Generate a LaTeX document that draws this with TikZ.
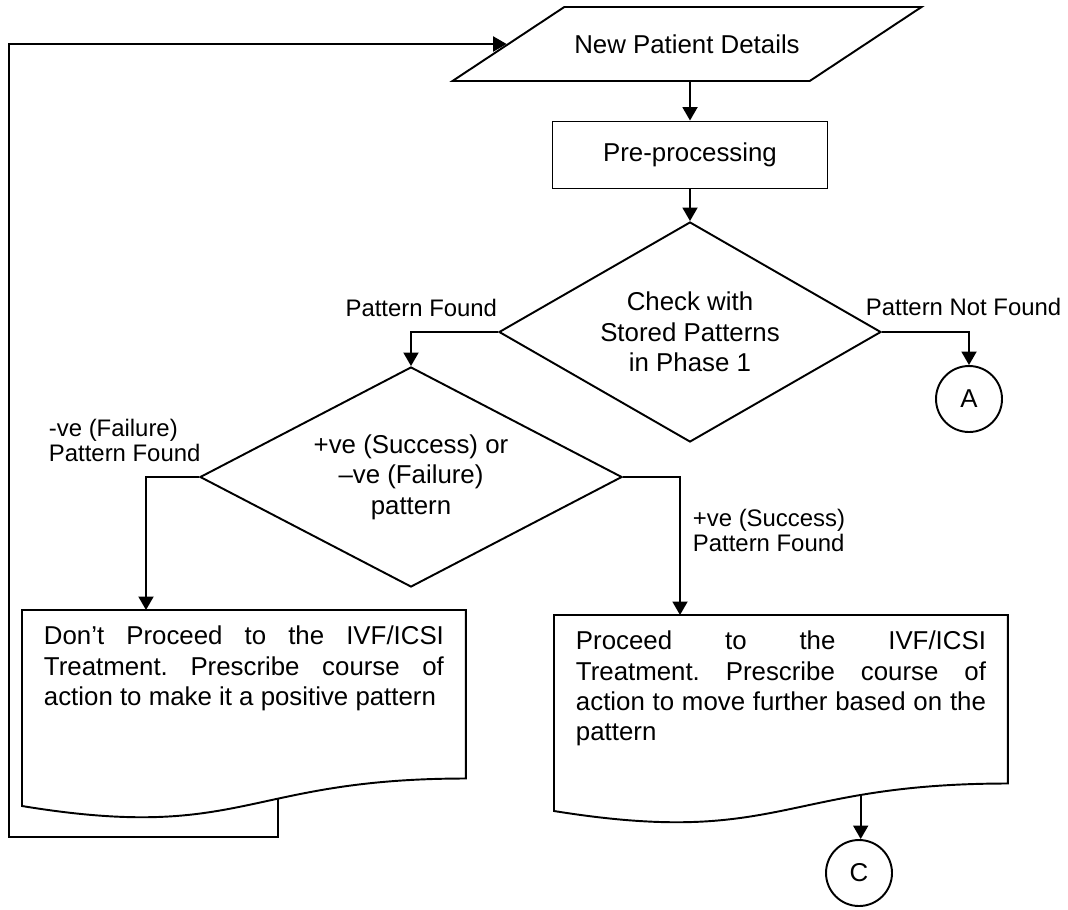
\documentclass[tikz,border=0pt]{standalone}
\usepackage{fontspec}
\setmainfont{Liberation Sans}
\usetikzlibrary{shapes.geometric, arrows.meta, calc}
\hyphenpenalty=10000
\exhyphenpenalty=10000
\frenchspacing
\tikzstyle{io} = [trapezium, trapezium left angle=33.5, trapezium right angle=146.5, text height=0.38cm, text depth=0cm, inner xsep=0.2cm, inner ysep=0.55cm, text centered, draw]
\tikzstyle{process} = [rectangle, minimum width=5.5cm, minimum height=1.34cm, text centered, draw]
\tikzstyle{decision} = [diamond, minimum height=4.4cm, inner sep=0pt, align=center, draw]
\tikzstyle{connector} = [circle, minimum size=1.32cm, inner sep=0pt, draw]
\tikzstyle{doctext} = [anchor=north west, align=justify, inner xsep=0.42cm, inner ysep=0.3cm]
\tikzstyle{lbl} = [inner sep=0pt, font=\fontsize{13.6}{14.2}\selectfont]
\tikzstyle{arrow} = [-{Triangle[width=0.3cm,length=0.27cm]}]

\begin{document}
\begin{tikzpicture}[line width=1.1pt, font=\fontsize{14.7}{17.3}\selectfont]
    \useasboundingbox (0,0) rectangle (21.36,-18.18);
    \node [io] at (13.74,-0.88) (para) {New Patient Details};
    \node [process] at (13.8,-3.1) (pre) {Pre-processing};
    \node [decision, minimum width=7.64cm, aspect=1.74] at (13.8,-6.64) (chk) {Check with\\Stored Patterns\\in Phase 1};
    \node [decision, minimum width=8.44cm, aspect=1.92] at (8.22,-9.54) (pdec) {+ve (Success) or\\–ve (Failure)\\pattern};
    \node [connector] at (19.38,-7.98) (cA) {A};
    \node [doctext, text width=8.0cm] at (0.44,-12.2) (ldoc) {Don’t Proceed to the IVF/ICSI\linebreak Treatment. Prescribe course of\linebreak action to make it a positive pattern};
    \node [doctext, text width=8.2cm] at (11.08,-12.3) (rdoc) {Proceed to the IVF/ICSI\linebreak Treatment. Prescribe course of\linebreak action to move further based on the\linebreak pattern};
    \node [connector] at (17.18,-17.46) (cC) {C};
    % document outlines with wavy bottom
    \draw (ldoc.north west) -- (ldoc.north east) -- ++(0,-3.37)
        .. controls ($(ldoc.north)+(0,-3.37)$) and ($(ldoc.north)+(0,-4.65)$) .. ($(ldoc.north west)+(0,-3.92)$) coordinate[pos=0.4] (lout) -- cycle;
    \draw (rdoc.north west) -- (rdoc.north east) -- ++(0,-3.37)
        .. controls ($(rdoc.north)+(0,-3.37)$) and ($(rdoc.north)+(0,-4.65)$) .. ($(rdoc.north west)+(0,-3.92)$) coordinate[pos=0.28] (rout) -- cycle;
    \coordinate (lin) at ($(ldoc.north west)+(2.48,0)$);
    \coordinate (rin) at ($(rdoc.north west)+(2.52,0)$);
    \coordinate (loopc) at (0.18,-16.74);
    % labels
    \node [lbl, anchor=east] at (9.96,-6.16) (lpf) {Pattern Found};
    \node [lbl, anchor=west] at (17.3,-6.14) (lpnf) {Pattern Not Found};
    \node [lbl, anchor=west, align=left] at (0.96,-8.81) (lneg) {-ve (Failure)\\Pattern Found};
    \node [lbl, anchor=west, align=left] at (13.84,-10.61) (lpos) {+ve (Success)\\Pattern Found};
    \draw [arrow] (para.south -| pre) -- (pre);
    \draw [arrow] (pre) -- (chk);
    \draw [arrow] (chk.west) -| (pdec.north);
    \draw [arrow] (chk.east) -| (cA.north);
    \draw [arrow] (pdec.west) -| (lin);
    \draw [arrow] (pdec.east) -| (rin);
    \draw [arrow] (rout) -- (rout |- cC.north);
    \draw [arrow] (lout) |- (loopc) |- (para.west);
\end{tikzpicture}
\end{document}
